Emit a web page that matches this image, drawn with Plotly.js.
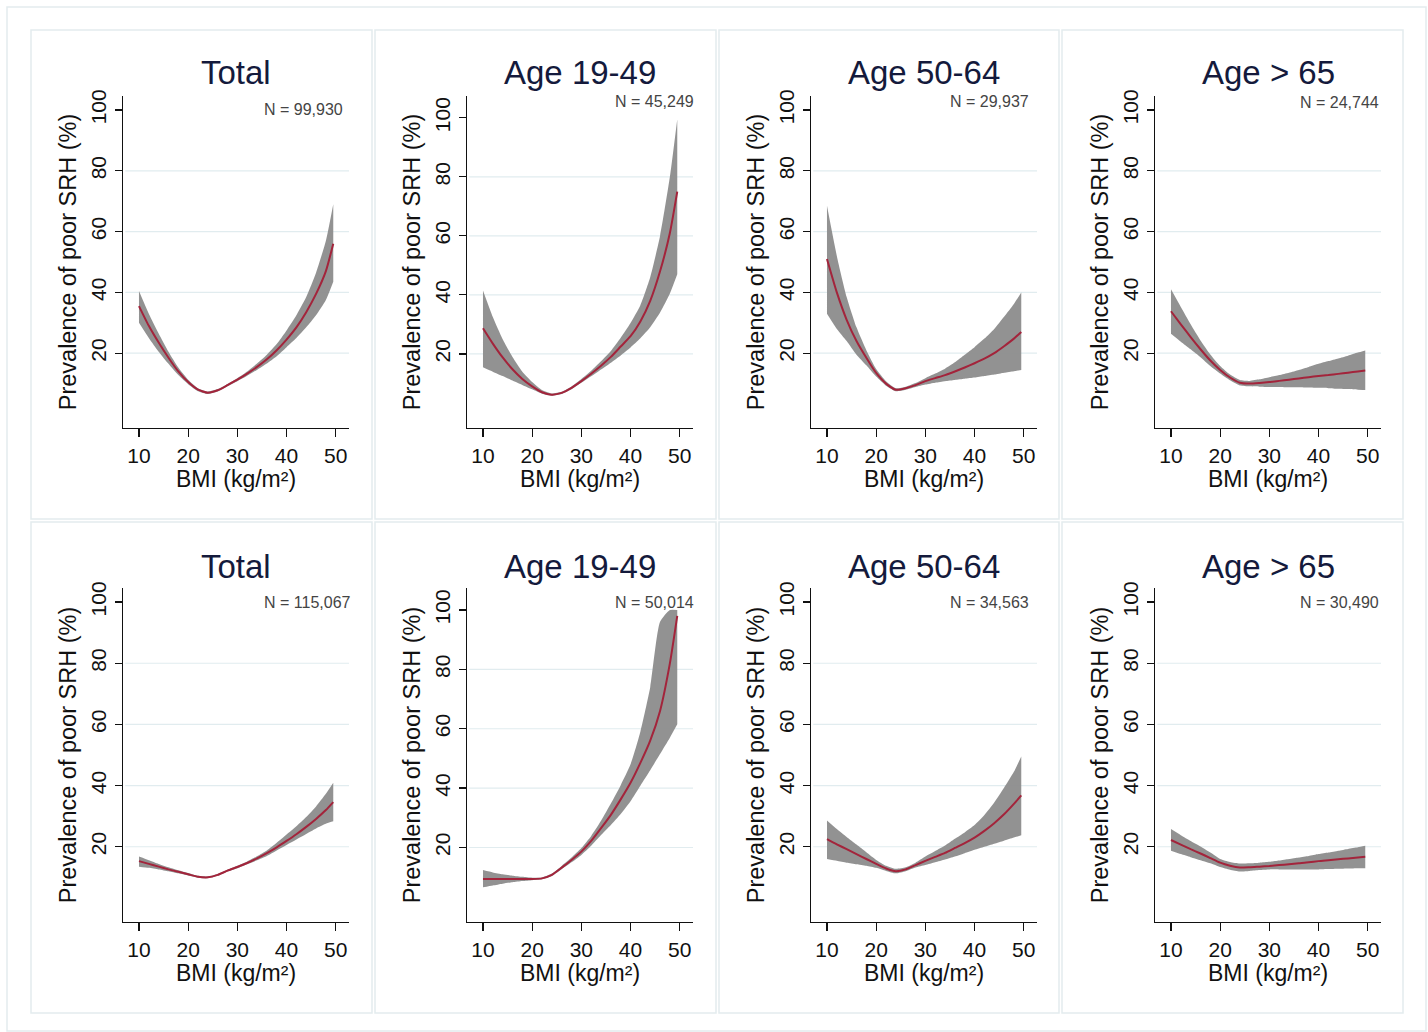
<!DOCTYPE html>
<html>
<head>
<meta charset="utf-8">
<script src="https://cdn.plot.ly/plotly-3.0.1.min.js"></script>
<style>html,body{margin:0;padding:0;background:#fff;}#chart{width:1428px;height:1032px;}</style>
</head>
<body>
<div id="chart"></div>
<script>
// ---------------- DATA ----------------
const bmi = [10,12,14,16,18,20,22,24,26,28,30,32,34,36,38,40,42,44,46,48,49.5];

const panelTitles = ["Total","Age 19-49","Age 50-64","Age > 65","Total","Age 19-49","Age 50-64","Age > 65"];
const panelN = ["N = 99,930","N = 45,249","N = 29,937","N = 24,744","N = 115,067","N = 50,014","N = 34,563","N = 30,490"];
const xTitle = "BMI (kg/m²)";
const yTitle = "Prevalence of poor SRH (%)";

// Row 1
const totalA_fit = [35.5,29,23.5,18.5,14,10.5,8,7,7.8,9.5,11.3,13.3,15.5,18,21,24.5,28.5,33.5,39.5,47,56];
const totalA_lo  = [30,25,20.5,16.5,12.8,9.8,7.5,6.6,7.4,9.1,10.8,12.6,14.5,16.6,19,22,25,28.5,32.5,37.5,43.5];
const totalA_hi  = [40.5,33,26.5,20.5,15.3,11.3,8.5,7.4,8.2,9.9,11.8,14,16.6,19.5,23,27.5,32.5,38.5,46.5,57,69];

const y1949A_fit = [28.7,23.5,18.8,14.8,11.5,9,7,6.2,6.8,8.5,10.8,13.3,16,19,22.5,26,31,38,48,61,75];
const y1949A_lo  = [15.5,14,12.5,11,9.5,8,6.5,5.8,6.4,8,10.2,12.4,14.7,17,19.5,22.2,25.3,29,34,40.5,47];
const y1949A_hi  = [41.5,32.5,25,19,14,10.5,7.8,6.6,7.2,9,11.5,14.3,17.5,21,25.5,30.5,36.5,46,60,80,99.5];

const y5064A_fit = [51,40,31,24,18.5,13.5,10,8,8.5,9.5,10.8,11.8,12.8,14,15.3,16.7,18.2,20,22.3,24.8,27];
const y5064A_lo  = [33,28,24,19.5,16,12.3,9.3,7.5,8,8.9,9.7,10.3,10.8,11.2,11.6,12,12.5,13,13.6,14.1,14.5];
const y5064A_hi  = [68.5,52,38.5,28.5,21,14.8,10.8,8.5,9,10.2,11.8,13.3,14.9,17,19.5,22,24.8,28,32,36.2,40];

const y65A_fit = [33.8,29.5,25.3,21.3,17.6,14.5,12,10.3,10,10.2,10.5,10.9,11.3,11.7,12.1,12.5,12.8,13.2,13.6,14,14.3];
const y65A_lo  = [26.4,23.8,21.3,18.7,15.8,13.3,11.1,9.4,9.1,9,8.9,8.9,8.8,8.8,8.7,8.6,8.5,8.3,8.2,8,7.9];
const y65A_hi  = [41,35.2,29.5,24.2,19.6,15.8,13,11.2,10.9,11.4,12.1,12.8,13.6,14.5,15.5,16.5,17.4,18.3,19.2,20.2,20.9];

// Row 2
const totalB_fit = [15.3,14.4,13.5,12.6,11.8,11,10.2,10,10.8,12.2,13.4,14.7,16.2,17.9,19.8,21.9,24.1,26.5,29.1,32,34.6];
const totalB_lo  = [13.5,13.1,12.6,12,11.3,10.6,9.9,9.7,10.5,11.9,13,14.3,15.6,17,18.8,20.6,22.4,24.2,26,27.5,28.3];
const totalB_hi  = [16.8,15.6,14.4,13.3,12.3,11.4,10.5,10.3,11.1,12.5,13.8,15.2,16.9,18.8,21.3,24,26.7,29.7,33.2,37.3,40.9];

const y1949B_fit = [9.4,9.4,9.4,9.4,9.4,9.4,9.6,10.8,13.2,15.8,18.6,22.2,26.5,31,36.2,41.8,48.5,56,66,82,98];
const y1949B_lo  = [6.6,7.2,7.8,8.3,8.7,9,9.3,10.4,12.7,15,17.5,20.6,24.2,27.6,31.3,35.6,40.8,46,51.5,57,61.5];
const y1949B_hi  = [12.4,11.6,11,10.5,10.1,9.8,9.9,11.2,13.8,16.6,19.8,23.9,29,34.8,41,48,59,74,96,100,100];

const y5064B_fit = [22.5,20.8,19.2,17.6,16,14.4,12.9,12,12.6,14,15.4,16.7,18,19.6,21.2,23,25.2,27.7,30.6,34,36.8];
const y5064B_lo  = [16,15.4,14.8,14.3,13.8,13.1,12.1,11.3,12,13.2,14,14.9,15.8,16.8,17.9,19,20,21,22,23,23.8];
const y5064B_hi  = [28.6,25.8,23.2,20.7,18.2,15.7,13.8,12.8,13.3,14.8,16.8,18.6,20.4,22.6,24.7,27.1,30.4,34.5,39.3,44.5,49.5];

const y65B_fit = [22.2,20.7,19.2,17.8,16.3,14.8,13.8,13.2,13.3,13.5,13.7,14,14.3,14.6,14.9,15.3,15.6,15.9,16.2,16.5,16.7];
const y65B_lo  = [18.7,17.6,16.6,15.6,14.6,13.4,12.5,11.9,12.1,12.4,12.6,12.6,12.6,12.6,12.6,12.6,12.7,12.8,12.9,13,13];
const y65B_hi  = [25.8,23.8,21.9,20.1,18.1,16,15,14.5,14.6,14.8,15.1,15.5,16,16.5,17,17.6,18.1,18.7,19.3,19.8,20.3];

const xTicks = [10,20,30,40,50];
const yTicks = [20,40,60,80,100];
const gridVals = [20,40,60,80];

// ---------------- BUILD ----------------
const series = [
  [totalA_fit,totalA_lo,totalA_hi],[y1949A_fit,y1949A_lo,y1949A_hi],
  [y5064A_fit,y5064A_lo,y5064A_hi],[y65A_fit,y65A_lo,y65A_hi],
  [totalB_fit,totalB_lo,totalB_hi],[y1949B_fit,y1949B_lo,y1949B_hi],
  [y5064B_fit,y5064B_lo,y5064B_hi],[y65B_fit,y65B_lo,y65B_hi]
];

const W = 1428, H = 1032;
const colPx = [[123,349],[467,693],[811,1037],[1155,1381]];
const rowPx = [[96,428],[588,922]];
const panelBoxX = [[31,372],[375,716],[719,1059],[1062,1403]];
const panelBoxY = [[30,519],[522,1013]];
const titleY = [72,566];
const nOffsetX = [139,146,137,143];
const nY = [[110,102,102,103],[602,602,602,602]];

const FONT = "Liberation Sans, Arial, sans-serif";
const bandColor = "rgba(140,140,140,0.95)";
const lineColor = "#a3243b";
const gridColor = "#e1ecef";
const SMOOTH = 0.55;

const traces = [];
const layout = {
  width: W, height: H,
  margin: {l:0,r:0,t:0,b:0},
  paper_bgcolor: "#ffffff",
  plot_bgcolor: "rgba(0,0,0,0)",
  showlegend: false,
  font: {family: FONT, color: "#111"},
  shapes: [],
  annotations: []
};

layout.shapes.push({type:"rect", xref:"paper", yref:"paper", x0:7/W, x1:1426/W, y0:1-1031/H, y1:1-7/H,
  line:{color:"#e3ecee", width:1.5}, fillcolor:"rgba(0,0,0,0)", layer:"below"});

for (let p = 0; p < 8; p++) {
  const r = Math.floor(p/4), c = p % 4;
  const idx = p + 1;
  const xa = "x" + (idx === 1 ? "" : idx);
  const ya = "y" + (idx === 1 ? "" : idx);
  const [fit, lo, hi] = series[p];

  layout.shapes.push({type:"rect", xref:"paper", yref:"paper",
    x0: panelBoxX[c][0]/W, x1: panelBoxX[c][1]/W,
    y0: 1-panelBoxY[r][1]/H, y1: 1-panelBoxY[r][0]/H,
    line:{color:"#e3ecee", width:1.5}, fillcolor:"#ffffff", layer:"below"});

  gridVals.forEach(g => layout.shapes.push({type:"line", xref: xa + " domain", yref: ya,
    x0: 0.01, x1: 1, y0: g, y1: g, line:{color:gridColor, width:1.2}, layer:"below"}));

  traces.push({x: bmi, y: lo, xaxis: xa, yaxis: ya, type:"scatter", mode:"lines",
    line:{width:0, shape:"spline", smoothing:SMOOTH, color:bandColor}, hoverinfo:"skip"});
  traces.push({x: bmi, y: hi, xaxis: xa, yaxis: ya, type:"scatter", mode:"lines", fill:"tonexty",
    fillcolor: bandColor, line:{width:0, shape:"spline", smoothing:SMOOTH, color:bandColor}, hoverinfo:"skip"});
  traces.push({x: bmi, y: fit, xaxis: xa, yaxis: ya, type:"scatter", mode:"lines",
    line:{width:2, shape:"spline", smoothing:SMOOTH, color:lineColor}});

  const yr = (c === 1) ? [-5.1, 107.4] : [-4.6, 104.6];
  const xKey = "xaxis" + (idx === 1 ? "" : idx);
  const yKey = "yaxis" + (idx === 1 ? "" : idx);
  layout[xKey] = {
    domain: [colPx[c][0]/W, colPx[c][1]/W],
    anchor: ya, range: [6.75, 52.7],
    tickvals: xTicks, ticks: "outside", ticklen: 8, tickwidth: 1.2, tickcolor: "#111",
    showline: true, linecolor: "#111", linewidth: 1.3, showgrid: false, zeroline: false,
    tickfont: {size: 21, family: FONT, color: "#111"},
    title: {text: xTitle, font: {size: 23, family: FONT, color:"#111"}, standoff: 0},
    fixedrange: true
  };
  layout[yKey] = {
    domain: [1-rowPx[r][1]/H, 1-rowPx[r][0]/H],
    anchor: xa, range: yr,
    tickvals: yTicks, ticks: "outside", ticklen: 7, tickwidth: 1.2, tickcolor: "#111",
    tickangle: -90,
    showline: true, linecolor: "#111", linewidth: 1.3, showgrid: false, zeroline: false,
    tickfont: {size: 21, family: FONT, color: "#111"},
    title: {text: yTitle, font: {size: 23.5, family: FONT, color:"#111"}, standoff: 4},
    fixedrange: true
  };

  layout.annotations.push({xref:"paper", yref:"paper",
    x: (colPx[c][0]+colPx[c][1])/2/W, y: 1-titleY[r]/H,
    text: panelTitles[p], showarrow:false, xanchor:"center", yanchor:"middle",
    font:{size: 33, family: FONT, color:"#141a3c"}});
  layout.annotations.push({xref:"paper", yref:"paper",
    x: (colPx[c][0]+nOffsetX[c])/W, y: 1-nY[r][c]/H,
    text: panelN[p], showarrow:false, xanchor:"left", yanchor:"middle",
    font:{size: 16, family: FONT, color:"#444"}});
}

Plotly.newPlot("chart", traces, layout, {displayModeBar:false, staticPlot:true});
</script>
</body>
</html>
